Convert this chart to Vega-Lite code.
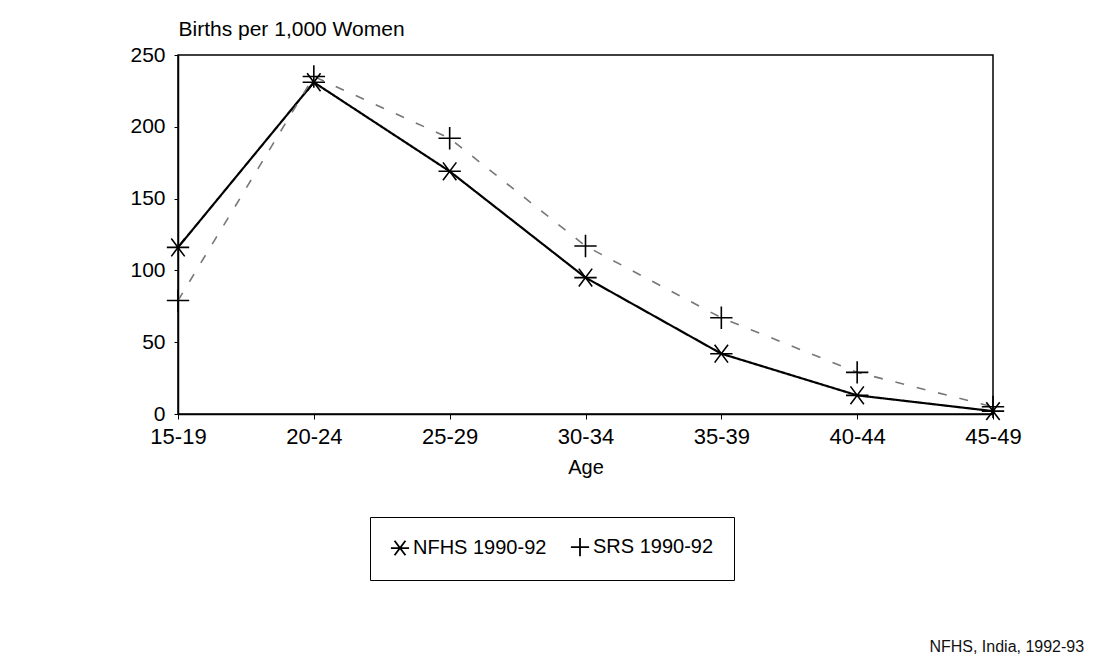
{
  "$schema": "https://vega.github.io/schema/vega-lite/v6.json",
  "width": 815,
  "height": 359,
  "autosize": "none",
  "padding": {"left": 178, "top": 55, "right": 114, "bottom": 250},
  "background": "white",
  "config": {
    "font": "Liberation Sans",
    "view": {"stroke": "black", "strokeWidth": 1.5}
  },
  "title": {
    "text": "NFHS, India, 1992-93",
    "orient": "bottom",
    "anchor": "end",
    "offset": 58,
    "dx": 63,
    "fontSize": 16,
    "fontWeight": "normal",
    "color": "#111"
  },
  "data": {
    "values": [
      {"age": "15-19", "series": "NFHS 1990-92", "rate": 116},
      {"age": "20-24", "series": "NFHS 1990-92", "rate": 231},
      {"age": "25-29", "series": "NFHS 1990-92", "rate": 169},
      {"age": "30-34", "series": "NFHS 1990-92", "rate": 95},
      {"age": "35-39", "series": "NFHS 1990-92", "rate": 42},
      {"age": "40-44", "series": "NFHS 1990-92", "rate": 13},
      {"age": "45-49", "series": "NFHS 1990-92", "rate": 2},
      {"age": "15-19", "series": "SRS 1990-92", "rate": 79},
      {"age": "20-24", "series": "SRS 1990-92", "rate": 235},
      {"age": "25-29", "series": "SRS 1990-92", "rate": 192},
      {"age": "30-34", "series": "SRS 1990-92", "rate": 117},
      {"age": "35-39", "series": "SRS 1990-92", "rate": 67},
      {"age": "40-44", "series": "SRS 1990-92", "rate": 29},
      {"age": "45-49", "series": "SRS 1990-92", "rate": 5}
    ]
  },
  "encoding": {
    "x": {
      "field": "age",
      "type": "ordinal",
      "scale": {"type": "point", "padding": 0},
      "axis": {
        "title": "Age",
        "titleFontSize": 20,
        "titleFontWeight": "normal",
        "titleColor": "black",
        "titlePadding": 10,
        "labelAngle": 0,
        "labelFontSize": 22,
        "labelColor": "black",
        "labelPadding": 7,
        "domainColor": "black",
        "domainWidth": 1.5,
        "tickColor": "black",
        "tickSize": 5,
        "grid": false
      }
    },
    "y": {
      "field": "rate",
      "type": "quantitative",
      "scale": {"domain": [0, 250], "nice": false},
      "axis": {
        "values": [0, 50, 100, 150, 200, 250],
        "title": "Births per 1,000 Women",
        "titleAngle": 0,
        "titleAlign": "left",
        "titleBaseline": "alphabetic",
        "titleX": 0,
        "titleY": -20,
        "titleFontSize": 21,
        "titleFontWeight": "normal",
        "titleColor": "black",
        "labelFontSize": 21,
        "labelColor": "black",
        "labelPadding": 9,
        "domainColor": "black",
        "domainWidth": 1.5,
        "tickColor": "black",
        "tickSize": 4,
        "grid": false
      }
    }
  },
  "layer": [
    {
      "mark": {"type": "line"},
      "encoding": {
        "color": {
          "field": "series",
          "type": "nominal",
          "scale": {"range": ["black", "#777777"]},
          "legend": null
        },
        "strokeDash": {
          "field": "series",
          "type": "nominal",
          "scale": {"range": [[1, 0], [9, 13]]},
          "legend": null
        },
        "strokeWidth": {
          "field": "series",
          "type": "nominal",
          "scale": {"range": [2.2, 1.6]},
          "legend": null
        }
      }
    },
    {
      "mark": {"type": "point", "filled": false, "color": "black", "strokeWidth": 1.6, "size": 500, "opacity": 1},
      "encoding": {
        "shape": {
          "field": "series",
          "type": "nominal",
          "scale": {
            "range": [
              "M-1,0L1,0M-0.6,-0.8L0.6,0.8M-0.6,0.8L0.6,-0.8",
              "M-1,0L1,0M0,-1L0,1"
            ]
          },
          "legend": {
            "title": null,
            "orient": "none",
            "legendX": 192,
            "legendY": 462,
            "direction": "horizontal",
            "strokeColor": "black",
            "padding": 20,
            "labelFontSize": 20,
            "labelColor": "black",
            "labelFont": "Liberation Sans",
            "symbolSize": 330,
            "symbolStrokeWidth": 1.8,
            "symbolStrokeColor": "black",
            "symbolOffset": 0,
            "labelOffset": 3,
            "columnPadding": 20
          }
        }
      }
    }
  ]
}
